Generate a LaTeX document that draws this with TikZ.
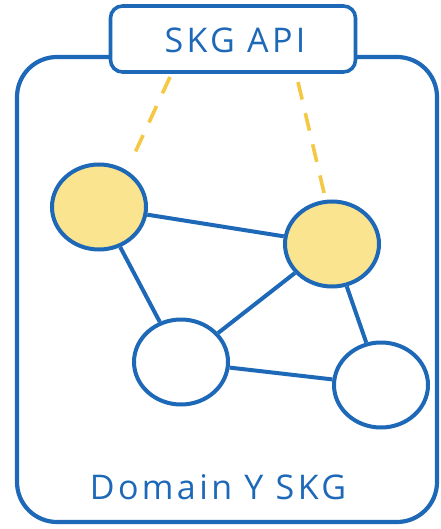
\documentclass[tikz,border=0pt]{standalone}
\usepackage{fontspec}
\setmainfont{Open Sans}
\newfontfamily\labelfont[LetterSpace=10]{Open Sans}
\definecolor{inkblue}{RGB}{30,104,184}
\definecolor{nodefill}{RGB}{251,228,143}
\definecolor{dashyellow}{RGB}{244,200,66}
\begin{document}
\begin{tikzpicture}[x=1pt,y=-1pt,
  framebox/.style={draw=inkblue,line width=4.2pt,rounded corners=40pt},
  apibox/.style={draw=inkblue,line width=3.6pt,fill=white,rounded corners=12pt},
  vertex/.style={ellipse,draw=inkblue,line width=4pt,minimum width=94pt,minimum height=85pt,inner sep=0pt},
  hot/.style={vertex,fill=nodefill},
  cold/.style={vertex,fill=white},
  link/.style={draw=inkblue,line width=4pt},
  access/.style={draw=dashyellow,line width=3.6pt,dash pattern=on 18pt off 14pt},
  caption/.style={text=inkblue,font=\labelfont\fontsize{34}{34}\selectfont}]
\usetikzlibrary{shapes.geometric}
\useasboundingbox (0,0) rectangle (440,529);
% domain frame
\draw[framebox] (17,57) rectangle (437,522);
% API box on top of the frame
\node[apibox,minimum width=245pt,minimum height=66pt,inner sep=0pt] (api) at (233,39) {};
\node[caption] (apitext) at (235,40) {SKG API};
% graph vertices
\node[hot] (a) at (99,207) {};
\node[hot] (b) at (332,244) {};
\node[cold] (c) at (181,362) {};
\node[cold] (d) at (381,385) {};
% edges
\draw[link] (a) -- (b);
\draw[link] (a) -- (c);
\draw[link] (c) -- (b);
\draw[link] (b) -- (d);
\draw[link] (c) -- (d);
% dashed access lines
\coordinate (p1) at (170,77);
\coordinate (q1) at (133,157);
\coordinate (p2) at (298,82);
\coordinate (q2) at (325,197);
\draw[access] (p1) -- (q1);
\draw[access] (p2) -- (q2);
% domain caption
\node[caption] (dom) at (218,487) {Domain Y SKG};
\end{tikzpicture}
\end{document}
